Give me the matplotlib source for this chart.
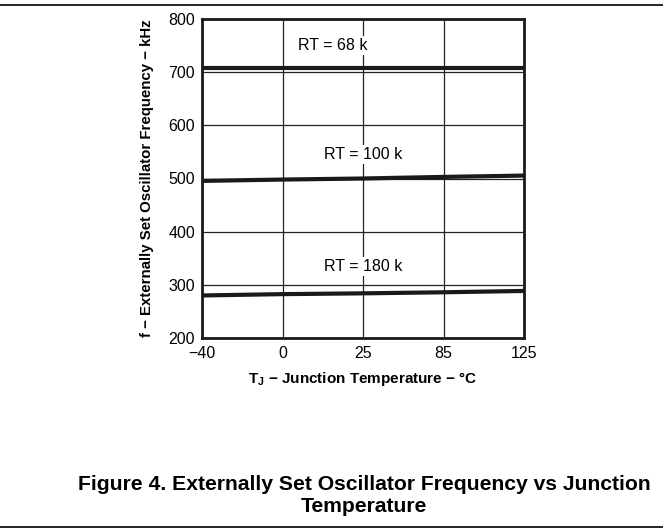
import matplotlib.pyplot as plt

plt.rcParams['font.family'] = ['Liberation Sans', 'DejaVu Sans']

temps = ["\u221240", "0", "25", "85", "125"]
rt68 = [707, 707, 707, 707, 707]
rt100 = [495.5, 498, 500, 503, 505.5]
rt180 = [280, 282.5, 284, 286, 288.5]

xpos = list(range(len(temps)))

fig = plt.figure(figsize=(6.63, 5.31), dpi=100)
ax = fig.add_axes([202 / 663, 1 - 338 / 531, (524 - 202) / 663, (338 - 19) / 531])

ax.plot(xpos, rt68, color="#1a1a1a", linewidth=3, zorder=3)
ax.plot(xpos, rt100, color="#1a1a1a", linewidth=3, zorder=3)
ax.plot(xpos, rt180, color="#1a1a1a", linewidth=3, zorder=3)

ax.set_xlim(0, 4)
ax.set_ylim(200, 800)
ax.set_xticks(xpos)
ax.set_xticklabels(temps)
ax.set_yticks([200, 300, 400, 500, 600, 700, 800])
ax.tick_params(axis="y", length=0, labelsize=11.5, pad=5)
ax.tick_params(axis="x", length=0, labelsize=11.5, pad=6)
ax.grid(True, color="#222222", linewidth=0.9)
ax.set_axisbelow(True)
for s in ax.spines.values():
    s.set_linewidth(2)
    s.set_color("#1a1a1a")

box = dict(facecolor="white", edgecolor="none", pad=1.5)
ax.text(1.63, 750, "RT = 68 k", fontsize=11.5, ha="center", va="center", bbox=box, zorder=2)
ax.text(2.0, 545, "RT = 100 k", fontsize=11.5, ha="center", va="center", bbox=box, zorder=2)
ax.text(2.0, 334, "RT = 180 k", fontsize=11.5, ha="center", va="center", bbox=box, zorder=2)

ax.set_xlabel("T$_\\mathregular{J}$ \u2212 Junction Temperature \u2212 \u00b0C",
              fontsize=11, fontweight="bold", labelpad=6)
ax.set_ylabel("f \u2212 Externally Set Oscillator Frequency \u2212 kHz",
              fontsize=10.8, fontweight="bold", labelpad=10)

fig.text(364 / 663, 1 - 485 / 531, "Figure 4. Externally Set Oscillator Frequency vs Junction",
         fontsize=15.2, fontweight="bold", ha="center", va="center")
fig.text(364 / 663, 1 - 507 / 531, "Temperature",
         fontsize=15.2, fontweight="bold", ha="center", va="center")

fig.add_artist(plt.Line2D([0, 1], [1 - 5 / 531, 1 - 5 / 531], color="black", linewidth=1.2))
fig.add_artist(plt.Line2D([0, 1], [1 - 527 / 531, 1 - 527 / 531], color="black", linewidth=1.2))

fig.savefig("out.png", dpi=100)
